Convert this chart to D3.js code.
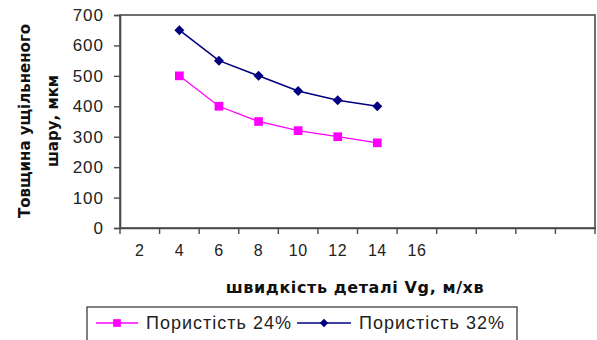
<!DOCTYPE html>
<html>
<head>
<meta charset="utf-8">
<script src="https://cdn.jsdelivr.net/npm/d3@7"></script>
<style>
  html, body { margin: 0; padding: 0; background: #fff; }
  svg { display: block; }
</style>
</head>
<body>
<svg id="chart" width="597" height="340"></svg>
<script>
// Category axis: speed labels, trailing empty categories keep the plot wide
const categories = ["2", "4", "6", "8", "10", "12", "14", "16", "", "", "", ""];
// Layer thickness, µm, per category (no measurement at 2 m/min)
const porosity24 = [null, 500, 400, 350, 320, 300, 280];
const porosity32 = [null, 650, 550, 500, 450, 420, 400];
const yTicks = [0, 100, 200, 300, 400, 500, 600, 700];
const seriesNames = ["Пористість 24%", "Пористість 32%"];

const svg = d3.select("#chart");
const plot = { left: 120, right: 595, top: 15, bottom: 228 };

const x = d3.scaleBand()
  .domain(d3.range(categories.length))
  .range([plot.left, plot.right])
  .paddingInner(0).paddingOuter(0);

const y = d3.scaleLinear()
  .domain([0, 700])
  .range([plot.bottom, plot.top]);

const frameColor = "#4a4a4a";
const textColor = "#222";
const sans = "Liberation Sans, Arial, sans-serif";
const boldFace = "DejaVu Sans, Verdana, sans-serif";

// plot area frame
svg.append("rect")
  .attr("x", plot.left).attr("y", plot.top)
  .attr("width", plot.right - plot.left).attr("height", plot.bottom - plot.top)
  .attr("fill", "none").attr("stroke", frameColor).attr("stroke-width", 1.6);

// y axis
const yAxis = svg.append("g")
  .attr("transform", `translate(${plot.left},0)`)
  .call(d3.axisLeft(y).tickValues(yTicks).tickSize(6).tickPadding(10).tickFormat(d3.format("d")));
yAxis.select(".domain").attr("stroke", frameColor).attr("stroke-width", 1.6);
yAxis.selectAll(".tick line").attr("stroke", frameColor).attr("stroke-width", 1.4);
yAxis.selectAll(".tick text")
  .attr("font-family", sans).attr("letter-spacing", 1)
  .attr("font-size", 17).attr("fill", textColor);

// x axis: labels at category centres, ticks at category boundaries
const xAxis = svg.append("g")
  .attr("transform", `translate(0,${plot.bottom})`)
  .call(d3.axisBottom(x).tickSize(0).tickPadding(17).tickFormat(i => categories[i]));
xAxis.select(".domain").attr("stroke", frameColor).attr("stroke-width", 1.6);
xAxis.selectAll(".tick text")
  .attr("font-family", sans).attr("letter-spacing", 0.5)
  .attr("font-size", 16).attr("fill", textColor);

const boundaries = d3.range(categories.length).map(i => x(i)).concat([x.range()[1]]);
svg.append("g").selectAll("line")
  .data(boundaries)
  .join("line")
  .attr("x1", d => d).attr("x2", d => d)
  .attr("y1", plot.bottom).attr("y2", plot.bottom + 6)
  .attr("stroke", frameColor).attr("stroke-width", 1.4);

// axis titles
svg.append("text")
  .attr("x", 355).attr("y", 293)
  .attr("text-anchor", "middle")
  .attr("font-family", boldFace).attr("letter-spacing", 0.6)
  .attr("font-weight", "bold").attr("font-size", 16).attr("fill", "#111")
  .text("швидкість деталі Vg, м/хв");

const yTitle = svg.append("text")
  .attr("transform", "translate(0,121) rotate(-90)")
  .attr("text-anchor", "middle")
  .attr("font-family", boldFace)
  .attr("font-weight", "bold").attr("font-size", 15).attr("fill", "#111");
yTitle.append("tspan").attr("x", 0).attr("y", 30).text("Товщина ущільненого");
yTitle.append("tspan").attr("x", 0).attr("y", 58).text("шару, мкм");

// series
const cx = i => x(i) + x.bandwidth() / 2;
const line = d3.line()
  .defined(d => d != null)
  .x((d, i) => cx(i))
  .y(d => y(d));

const pink = "#ff00ff", navy = "#000080";

function drawSeries(values, color, width, shape, size) {
  svg.append("path")
    .datum(values)
    .attr("fill", "none").attr("stroke", color).attr("stroke-width", width)
    .attr("d", line);
  svg.append("g").selectAll("path")
    .data(values.map((v, i) => ({ v, i })).filter(d => d.v != null))
    .join("path")
    .attr("transform", d => `translate(${cx(d.i)},${y(d.v)})` + (shape === "diamond" ? " rotate(45)" : ""))
    .attr("d", d3.symbol(d3.symbolSquare, size)())
    .attr("fill", color);
}
drawSeries(porosity24, pink, 1.3, "square", 76);
drawSeries(porosity32, navy, 1.6, "diamond", 50);

// legend
const legend = svg.append("g");
legend.append("rect")
  .attr("x", 87).attr("y", 307).attr("width", 430).attr("height", 45)
  .attr("fill", "#fff").attr("stroke", frameColor).attr("stroke-width", 1.4);

const legendItems = [
  { name: seriesNames[0], color: pink, shape: "square", size: 60, x1: 96, x2: 138, tx: 146, w: 1.3 },
  { name: seriesNames[1], color: navy, shape: "diamond", size: 36, x1: 297, x2: 351, tx: 359, w: 1.6 }
];
legendItems.forEach(it => {
  const ly = 323;
  legend.append("line")
    .attr("x1", it.x1).attr("x2", it.x2).attr("y1", ly).attr("y2", ly)
    .attr("stroke", it.color).attr("stroke-width", it.w);
  legend.append("path")
    .attr("transform", `translate(${(it.x1 + it.x2) / 2},${ly})` + (it.shape === "diamond" ? " rotate(45)" : ""))
    .attr("d", d3.symbol(d3.symbolSquare, it.size)())
    .attr("fill", it.color);
  legend.append("text")
    .attr("x", it.tx).attr("y", ly).attr("dy", "0.36em")
    .attr("font-family", sans).attr("letter-spacing", 1)
    .attr("font-size", 18).attr("fill", textColor)
    .text(it.name);
});
</script>
</body>
</html>
